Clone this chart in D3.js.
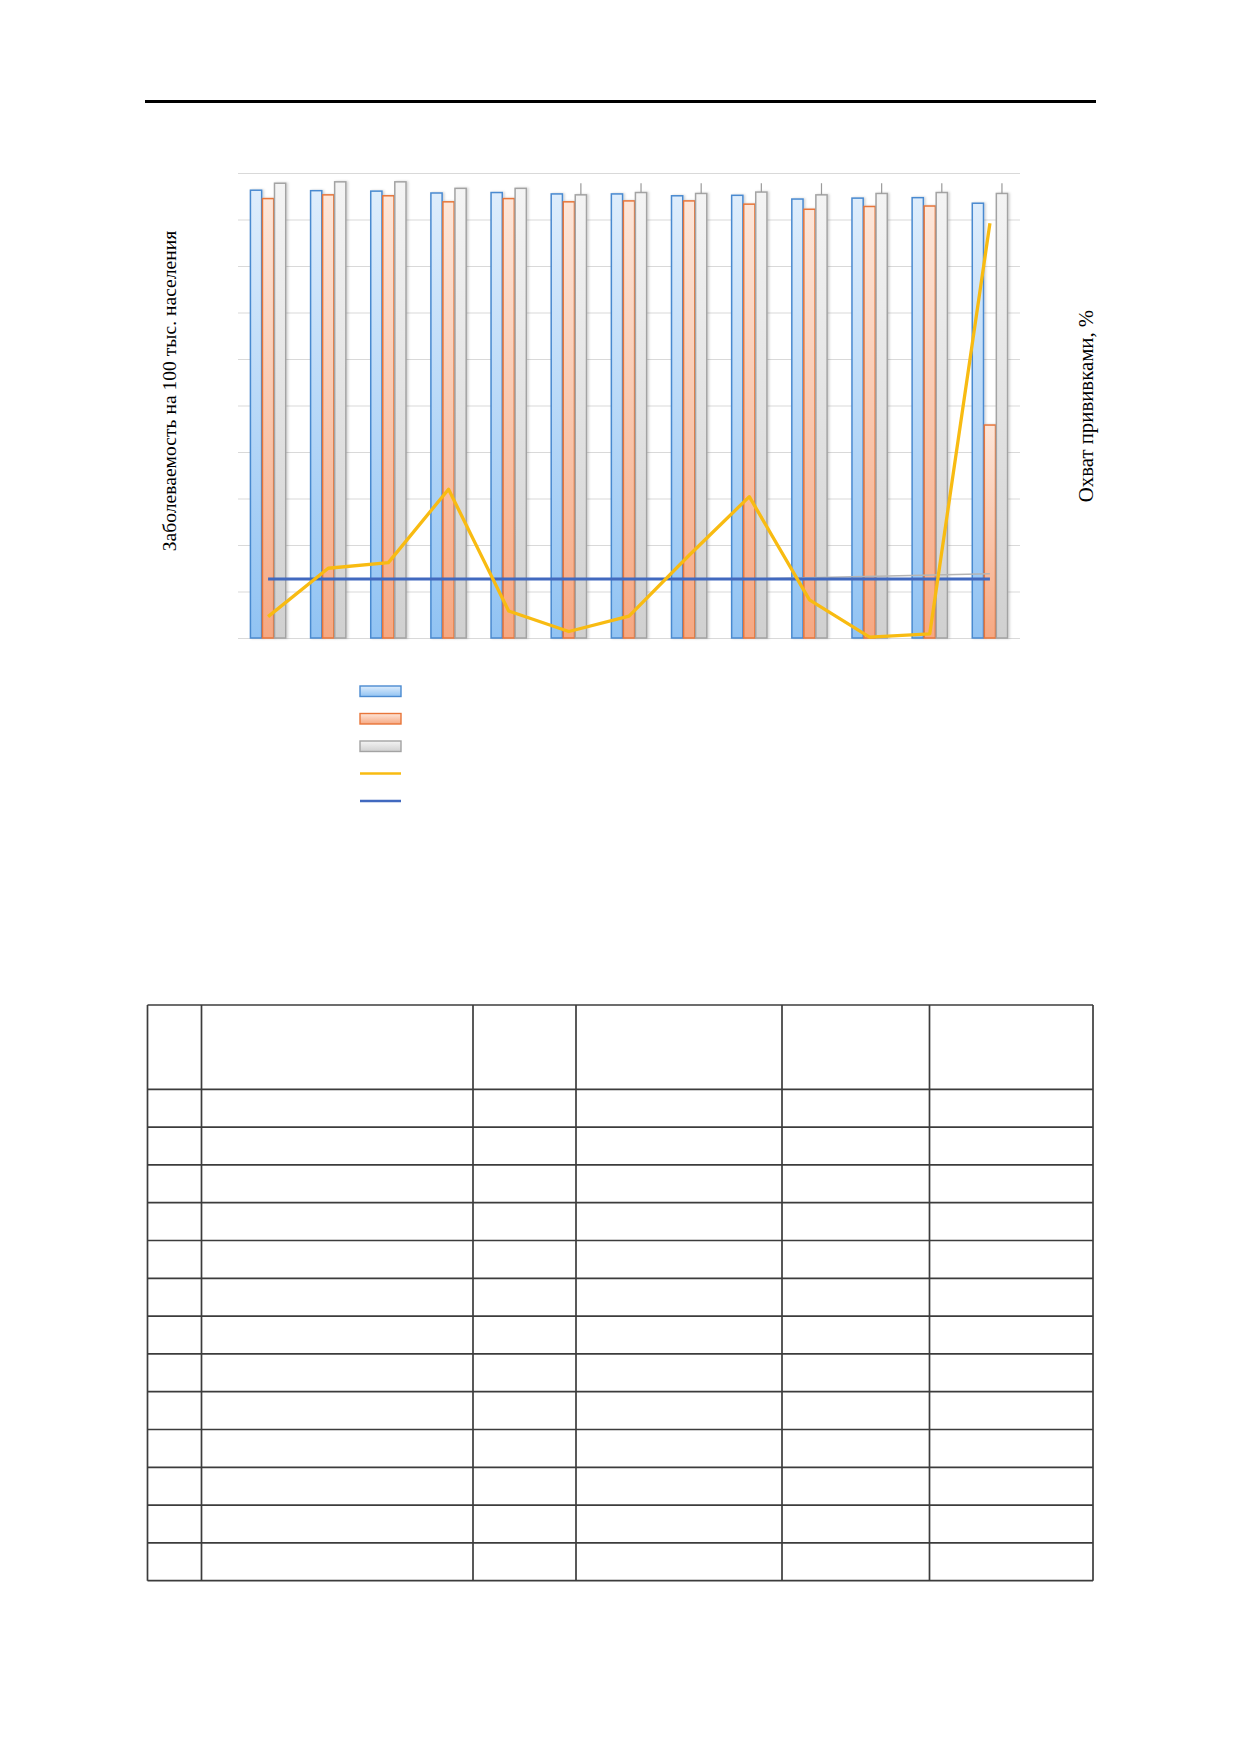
<!DOCTYPE html>
<html>
<head>
<meta charset="utf-8">
<script src="https://cdn.jsdelivr.net/npm/d3@7"></script>
<style>
  body { margin: 0; background: #fff; }
  svg { display: block; }
  .grid line { stroke: #d9d9d9; stroke-width: 1.2; }
  .axis-title { font-family: "Liberation Serif", "Times New Roman", serif; fill: #000; }
</style>
</head>
<body>
<div id="chart"></div>
<script>
// categories (no visible labels in the source, rows of the table below)
var categories = ['1', '2', '3', '4', '5', '6', '7', '8', '9', '10', '11', '12', '13'];
var barSeries = ['coverage1', 'coverage2', 'coverage3'];

// vaccination coverage, % (right axis)
var coverage1 = [96.3, 96.2, 96.1, 95.7, 95.8, 95.5, 95.5, 95.1, 95.2, 94.4, 94.6, 94.7, 93.5];
var coverage2 = [94.5, 95.3, 95.1, 93.8, 94.5, 93.8, 94.0, 94.0, 93.3, 92.2, 92.8, 92.9, 45.8];
var coverage3 = [97.8, 98.1, 98.1, 96.7, 96.7, 95.3, 95.8, 95.6, 95.9, 95.3, 95.6, 95.8, 95.6];
// upper whisker on the grey bars (only from the 6th category on)
var coverage3Upper = [null, null, null, null, null, 97.8, 97.8, 97.8, 97.8, 97.8, 97.8, 97.8, 97.8];

// incidence per 100k (left axis)
var incidence = [0.46, 1.50, 1.62, 3.20, 0.58, 0.14, 0.47, 1.78, 3.04, 0.82, 0.02, 0.09, 8.92];
var incidenceLevel = [1.27, 1.27, 1.27, 1.27, 1.27, 1.27, 1.27, 1.27, 1.27, 1.27, 1.27, 1.27, 1.27];
var trendCats = ['9', '13'];
var trendVals = [1.27, 1.38];

var rightTicks = [0, 10, 20, 30, 40, 50, 60, 70, 80, 90, 100];

var W = 1240, H = 1754;
var plot = { left: 238, right: 1020, top: 173, bottom: 638 };

var svg = d3.select('#chart').append('svg').attr('width', W).attr('height', H);

// page rule above the figure
svg.append('line').attr('x1', 145).attr('x2', 1096).attr('y1', 101.5).attr('y2', 101.5)
  .attr('stroke', '#000').attr('stroke-width', 3);

var x0 = d3.scaleBand().domain(categories).range([plot.left, plot.right]).paddingInner(0.4).paddingOuter(0.2);
var x1 = d3.scaleBand().domain(barSeries).range([0, x0.bandwidth()]);
var yR = d3.scaleLinear().domain([0, 100]).range([plot.bottom, plot.top]);
var yL = d3.scaleLinear().domain([0, 10]).range([plot.bottom, plot.top]);
var cx = function (c) { return x0(c) + x0.bandwidth() / 2; };

// gradients + soft shadow
var defs = svg.append('defs');
var fills = {
  coverage1: { top: '#deedfc', bottom: '#91c3f3', stroke: '#4a8ad0' },
  coverage2: { top: '#fde6d9', bottom: '#f6a882', stroke: '#e8763a' },
  coverage3: { top: '#f4f4f4', bottom: '#d0d0d0', stroke: '#a3a3a3' }
};
barSeries.forEach(function (s) {
  var g = defs.append('linearGradient').attr('id', 'g-' + s).attr('x1', 0).attr('y1', 0).attr('x2', 0).attr('y2', 1);
  g.append('stop').attr('offset', '0%').attr('stop-color', fills[s].top);
  g.append('stop').attr('offset', '100%').attr('stop-color', fills[s].bottom);
});
var shadow = defs.append('filter').attr('id', 'shadow').attr('x', '-20%').attr('y', '-5%').attr('width', '160%').attr('height', '110%');
shadow.append('feDropShadow').attr('dx', 1.5).attr('dy', 0).attr('stdDeviation', 1)
  .attr('flood-color', '#000').attr('flood-opacity', 0.18);

// gridlines
svg.append('g').classed('grid', true)
  .attr('transform', 'translate(' + plot.left + ',0)')
  .call(d3.axisLeft(yR).tickValues(rightTicks).tickSize(-(plot.right - plot.left)).tickFormat(''))
  .call(function (g) { g.select('.domain').remove(); });

// bars
var seriesData = { coverage1: coverage1, coverage2: coverage2, coverage3: coverage3 };
var groups = svg.append('g').selectAll('g').data(categories).enter().append('g')
  .attr('transform', function (c) { return 'translate(' + x0(c) + ',0)'; });

groups.selectAll('rect').data(function (c, i) {
  return barSeries.map(function (s) { return { key: s, value: seriesData[s][i] }; });
}).enter().append('rect')
  .attr('x', function (d) { return x1(d.key) + 0.4; })
  .attr('y', function (d) { return yR(d.value); })
  .attr('width', x1.bandwidth() - 0.8)
  .attr('height', function (d) { return yR(0) - yR(d.value); })
  .attr('fill', function (d) { return 'url(#g-' + d.key + ')'; })
  .attr('stroke', function (d) { return fills[d.key].stroke; })
  .attr('stroke-width', 1.5)
  .attr('filter', 'url(#shadow)');

// whiskers over grey bars
svg.append('g').selectAll('line').data(categories.filter(function (c, i) { return coverage3Upper[i] !== null; }))
  .enter().append('line')
  .attr('x1', function (c) { return x0(c) + x1('coverage3') + x1.bandwidth() / 2; })
  .attr('x2', function (c) { return x0(c) + x1('coverage3') + x1.bandwidth() / 2; })
  .attr('y1', function (c) { return yR(coverage3Upper[categories.indexOf(c)]); })
  .attr('y2', function (c) { return yR(coverage3[categories.indexOf(c)]); })
  .attr('stroke', '#9a9a9a').attr('stroke-width', 1.2);

// lines
var line = d3.line().x(function (d) { return cx(d[0]); }).y(function (d) { return yL(d[1]); });
svg.append('path').datum(d3.zip(trendCats, trendVals)).attr('d', line)
  .attr('fill', 'none').attr('stroke', '#b4b4b4').attr('stroke-width', 1.5);
svg.append('path').datum(d3.zip(categories, incidenceLevel)).attr('d', line)
  .attr('fill', 'none').attr('stroke', '#4169bf').attr('stroke-width', 3);
svg.append('path').datum(d3.zip(categories, incidence)).attr('d', line)
  .attr('fill', 'none').attr('stroke', '#f8bb12').attr('stroke-width', 3.3).attr('stroke-linejoin', 'round');

// axis titles
svg.append('text').classed('axis-title', true).text('Заболеваемость на 100 тыс. населения')
  .attr('transform', 'translate(' + 176 + ',' + 391 + ') rotate(-90)')
  .attr('text-anchor', 'middle').style('font-size', '19.6px');
svg.append('text').classed('axis-title', true).text('Охват прививками, %')
  .attr('transform', 'translate(' + 1093 + ',' + 406 + ') rotate(-90)')
  .attr('text-anchor', 'middle').style('font-size', '20.8px');

// legend (symbols only)
var legendItems = barSeries.concat(['incidence', 'incidenceLevel']);
var legend = svg.append('g').attr('transform', 'translate(360,686)');
var li = legend.selectAll('g').data(legendItems).enter().append('g')
  .attr('transform', function (d, i) { return 'translate(0,' + (i * 27.5) + ')'; });
li.filter(function (d) { return barSeries.indexOf(d) >= 0; }).append('rect')
  .attr('width', 41).attr('height', 10.5)
  .attr('fill', function (d) { return 'url(#g-' + d + ')'; })
  .attr('stroke', function (d) { return fills[d].stroke; }).attr('stroke-width', 1.4);
li.filter(function (d) { return barSeries.indexOf(d) < 0; }).append('line')
  .attr('x1', 0).attr('x2', 41).attr('y1', 5).attr('y2', 5)
  .attr('stroke', function (d) { return d === 'incidence' ? '#f8bb12' : '#4169bf'; })
  .attr('stroke-width', 2.6);

// empty table, one row per category
var colEdges = [147.5, 201.5, 473, 576, 782, 929.5, 1093];
var tableTop = 1005, headerBottom = 1089.3, rowH = 37.8;
var rowEdges = [tableTop].concat(categories.map(function (c, i) { return headerBottom + i * rowH; }))
  .concat([headerBottom + categories.length * rowH]);
var table = svg.append('g').attr('stroke', '#3c3c3c').attr('stroke-width', 1.7);
table.selectAll('line.h').data(rowEdges).enter().append('line').classed('h', true)
  .attr('x1', colEdges[0]).attr('x2', colEdges[colEdges.length - 1])
  .attr('y1', function (d) { return d; }).attr('y2', function (d) { return d; });
table.selectAll('line.v').data(colEdges).enter().append('line').classed('v', true)
  .attr('x1', function (d) { return d; }).attr('x2', function (d) { return d; })
  .attr('y1', tableTop).attr('y2', rowEdges[rowEdges.length - 1]);
</script>
</body>
</html>
